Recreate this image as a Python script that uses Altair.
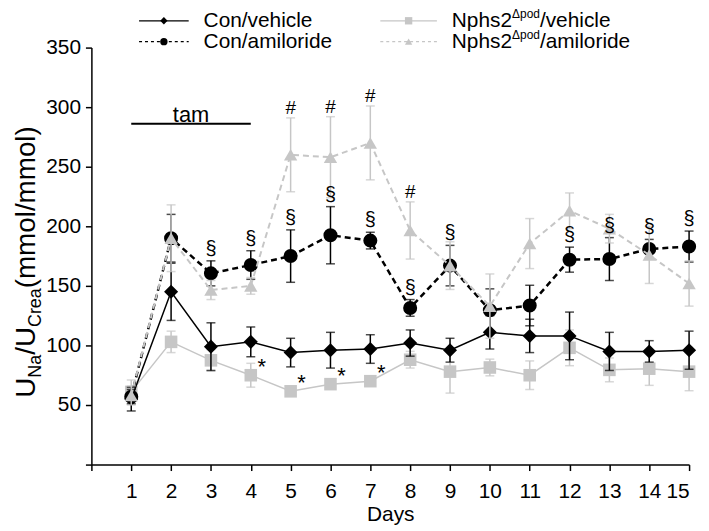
import altair as alt
import pandas as pd

# ---------------- data ----------------
days = list(range(1, 16))

con_vehicle = [55, 145, 99, 103, 94, 96, 97, 102, 96, 111, 108, 108, 95, 95, 96]
con_vehicle_se = [10, 24, 20, 12.5, 12, 15, 12, 11, 10, 14, 14, 20, 16, 9, 16]

con_amiloride = [57, 190, 160.5, 167.5, 175, 192.5, 188, 131.5, 167, 129.5, 133.5, 172, 172.5, 181, 183]
con_amiloride_se = [6, 20, 10.5, 12, 22, 24, 7, 7, 17, 18, 17, 10.5, 18, 8, 13]

nphs_vehicle = [61, 103, 87.5, 75, 61.5, 67.5, 70, 88, 78, 81.5, 75, 98, 79.5, 80.5, 78]
nphs_vehicle_se = [10, 9, 9, 10, 4, 3, 4, 7, 18, 7, 12, 15, 10, 14, 16]

nphs_amiloride = [58, 190, 146.5, 150, 260, 258, 270, 196.5, 167, 133, 185.5, 213, 198, 176, 152]
nphs_amiloride_se = [8, 28, 8, 7, 31, 34, 31, 24, 20, 27, 21, 15, 12, 24, 19]

sect_days = [3, 4, 5, 6, 7, 8, 9, 12, 13, 14, 15]   # § over Con/amiloride
hash_days = [5, 6, 7, 8]                             # # over Nphs2/amiloride
star_days = [4, 5, 6, 7]                             # * next to Nphs2/vehicle

tam_start, tam_end, tam_level = 1, 4, 286

x_ticks = list(range(0, 16))
y_ticks = list(range(0, 351, 50))

FONT = "Liberation Sans"
BLACK = "#000000"
GREY = "#c6c6c6"


def frame(mean, se):
    return pd.DataFrame({
        "day": days,
        "mean": mean,
        "lo": [m - s for m, s in zip(mean, se)],
        "hi": [m + s for m, s in zip(mean, se)],
    })


df_cv = frame(con_vehicle, con_vehicle_se)
df_ca = frame(con_amiloride, con_amiloride_se)
df_nv = frame(nphs_vehicle, nphs_vehicle_se)
df_na = frame(nphs_amiloride, nphs_amiloride_se)

xs = alt.Scale(domain=[0, 15], nice=False, zero=False)
ys = alt.Scale(domain=[0, 350], nice=False, zero=False)

x_axis = alt.Axis(values=x_ticks, labelExpr="datum.value == 0 ? '' : datum.label",
                  title="Days", grid=False)
y_axis = alt.Axis(values=y_ticks, labelExpr="datum.value == 0 ? '' : datum.label",
                  title=None, grid=False)


def X(field="day"):
    return alt.X(f"{field}:Q", scale=xs, axis=x_axis)


def Y(field):
    return alt.Y(f"{field}:Q", scale=ys, axis=y_axis)


def series_layers(df, color, shape, size, width, dash):
    base = alt.Chart(df)
    bars = base.mark_rule(color=color, strokeWidth=1.5).encode(x=X(), y=Y("lo"), y2="hi:Q")
    cap_hi = base.mark_tick(color=color, orient="horizontal", size=9, thickness=1.5).encode(x=X(), y=Y("hi"))
    cap_lo = base.mark_tick(color=color, orient="horizontal", size=9, thickness=1.5).encode(x=X(), y=Y("lo"))
    line_kw = dict(color=color, strokeWidth=width)
    if dash:
        line_kw["strokeDash"] = dash
    line = base.mark_line(**line_kw).encode(x=X(), y=Y("mean"))
    pts = base.mark_point(shape=shape, filled=True, size=size, color=color, opacity=1).encode(x=X(), y=Y("mean"))
    return [bars, cap_hi, cap_lo, line, pts]


layers = []
layers += series_layers(df_nv, GREY, "square", 160, 1.5, None)
layers += series_layers(df_cv, BLACK, "diamond", 200, 1.5, None)
layers += series_layers(df_ca, BLACK, "circle", 200, 2.5, [6, 4])
layers += series_layers(df_na, GREY, "triangle-up", 180, 2, [6, 4])

# ---------------- significance marks ----------------
sect_df = df_ca[df_ca["day"].isin(sect_days)]
hash_df = df_na[df_na["day"].isin(hash_days)]
star_df = df_nv[df_nv["day"].isin(star_days)]

layers.append(alt.Chart(sect_df).mark_text(text="§", font=FONT, fontSize=20, color=BLACK,
                                           baseline="middle", dy=-12).encode(x=X(), y=Y("hi")))
layers.append(alt.Chart(hash_df).mark_text(text="#", font=FONT, fontSize=19, color=BLACK,
                                           baseline="middle", dy=-10).encode(x=X(), y=Y("hi")))
layers.append(alt.Chart(star_df).mark_text(text="*", font=FONT, fontSize=22, color=BLACK,
                                           baseline="middle", dx=11, dy=-8).encode(x=X(), y=Y("mean")))

# ---------------- tamoxifen bar ----------------
tam_df = pd.DataFrame({"start": [tam_start], "end": [tam_end], "level": [tam_level],
                       "mid": [(tam_start + tam_end) / 2]})
layers.append(alt.Chart(tam_df).mark_rule(color=BLACK, strokeWidth=2).encode(
    x=X("start"), x2="end:Q", y=Y("level")))
layers.append(alt.Chart(tam_df).mark_text(text="tam", font=FONT, fontSize=22, color=BLACK,
                                          baseline="bottom", dy=3).encode(x=X("mid"), y=Y("level")))

# ---------------- custom legend (with superscripts) ----------------
one = pd.DataFrame({"k": [0]})
W = {"N": 722, "p": 556, "h": 556, "s": 500, "2": 556, "Δ": 668, "o": 556, "d": 556,
     "/": 278, "v": 500, "e": 556, "i": 222, "c": 500, "l": 222, "a": 556, "m": 833,
     "r": 333, "U": 722, "C": 722, " ": 278, "(": 333, ")": 333}


def tw(s, size):
    return sum(W.get(ch, 556) for ch in s) * size / 1000.0


LF = 21
legend_rows = [
    # (x_line0, x_line1, y, color, dash, shape, width, label parts)
    (48, 98, -27, BLACK, None, "diamond", 1.2, [("Con/vehicle", LF, 0)]),
    (48, 98, -6, BLACK, [3, 3], "circle", 1.2, [("Con/amiloride", LF, 0)]),
    (291, 348, -27, GREY, None, "square", 1.2, [("Nphs2", LF, 0), ("Δpod", 12, -7), ("/vehicle", LF, 0)]),
    (291, 348, -6, GREY, [3, 3], "triangle-up", 1.2, [("Nphs2", LF, 0), ("Δpod", 12, -7), ("/amiloride", LF, 0)]),
]
for x0, x1, yy, col, dash, shape, wdt, parts in legend_rows:
    kw = dict(color=col, strokeWidth=wdt)
    if dash:
        kw["strokeDash"] = dash
    layers.append(alt.Chart(one).mark_rule(**kw).encode(
        x=alt.value(x0), x2=alt.value(x1), y=alt.value(yy)))
    layers.append(alt.Chart(one).mark_point(shape=shape, filled=True, size=55, color=col, opacity=1).encode(
        x=alt.value((x0 + x1) / 2), y=alt.value(yy)))
    tx = x1 + 15
    for txt, fs, off in parts:
        layers.append(alt.Chart(one).mark_text(text=txt, font=FONT, fontSize=fs, color=BLACK,
                                               align="left", baseline="middle").encode(
            x=alt.value(tx), y=alt.value(yy + off)))
        tx += tw(txt, fs)

# ---------------- y-axis title with subscripts (rotated) ----------------
TF, SF = 28, 18
title_parts = [("U", TF, 0), ("Na", SF, 1), ("/U", TF, 0), ("Crea", SF, 1), (" (mmol/mmol)", TF, 0)]
total = sum(tw(t, f) for t, f, _ in title_parts)
ty = 212 + total / 2
for txt, fs, sub in title_parts:
    layers.append(alt.Chart(one).mark_text(text=txt, font=FONT, fontSize=fs, color=BLACK, angle=270,
                                           align="left", baseline="alphabetic").encode(
        x=alt.value(-57 + (6 if sub else 0)), y=alt.value(ty)))
    ty -= tw(txt, fs)

chart = alt.layer(*layers).properties(
    width=602, height=420,
    autosize=alt.AutoSizeParams(type="none"),
    padding={"left": 84, "top": 38, "right": 12, "bottom": 62},
).configure_view(stroke=None).configure_axis(
    domainColor=BLACK, domainWidth=1.5, tickColor=BLACK, tickWidth=1.5, tickSize=6,
    labelFont=FONT, labelFontSize=21, labelColor=BLACK, labelPadding=5,
    titleFont=FONT, titleFontSize=21, titleColor=BLACK, titleFontWeight="normal",
).configure_axisX(titlePadding=2, labelPadding=10)

chart.save("out.html", embed_options={"renderer": "svg", "actions": False})
